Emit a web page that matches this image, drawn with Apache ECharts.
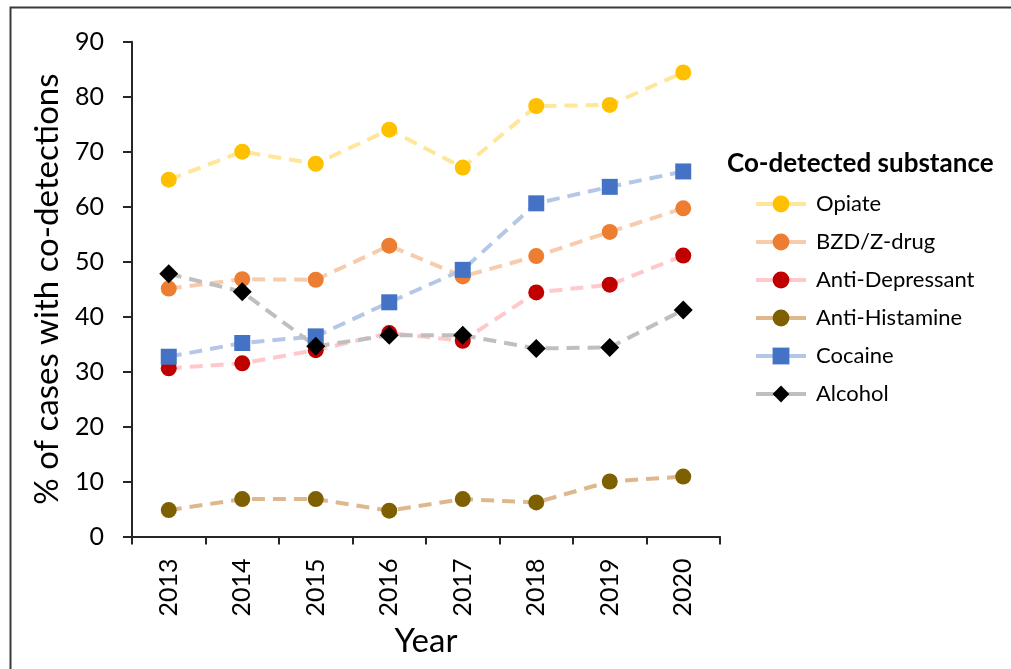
<!DOCTYPE html>
<html><head><meta charset="utf-8">
<script src="https://cdn.jsdelivr.net/npm/echarts@6/dist/echarts.min.js"></script>
<style>html,body{margin:0;padding:0;background:#fff}#c{width:1011px;height:669px}</style>
</head><body><div id="c"></div>
<script>
const years = ['2013','2014','2015','2016','2017','2018','2019','2020'];
const yTicks = [0,10,20,30,40,50,60,70,80,90];
const opiate = [64.9, 70.0, 67.8, 74.0, 67.1, 78.3, 78.5, 84.4];
const bzd = [45.1, 46.8, 46.7, 52.9, 47.3, 51.0, 55.4, 59.7];
const antiDep = [30.6, 31.5, 33.9, 37.0, 35.6, 44.4, 45.8, 51.1];
const antiHist = [4.8, 6.8, 6.8, 4.7, 6.8, 6.2, 10.0, 10.9];
const cocaine = [32.7, 35.2, 36.4, 42.6, 48.5, 60.6, 63.6, 66.4];
const alcohol = [47.8, 44.5, 34.6, 36.6, 36.6, 34.2, 34.4, 41.2];

const FONT = 'Lato';
function mk(name, data, color, lineColor, symbol, size) {
  return {
    name, type: 'line', data, symbol, symbolSize: size,
    itemStyle: { color, borderWidth: 0, opacity: 1 },
    lineStyle: { color: lineColor, width: 4, type: [13, 8] },
    emphasis: { disabled: true }, animation: false
  };
}
const chart = echarts.init(document.getElementById('c'));
chart.setOption({
  animation: false,
  backgroundColor: '#fff',
  textStyle: { fontFamily: FONT },
  graphic: [{ type: 'rect', left: 8, top: 5, shape: { width: 1010, height: 670 },
    style: { fill: 'none', stroke: '#3a3a3a', lineWidth: 2 }, silent: true }],
  title: { text: 'Co-detected substance', left: 722, top: 146,
    textStyle: { fontFamily: FONT, fontSize: 26, fontWeight: 'bold', color: '#000' } },
  grid: { left: 132, top: 41.7, width: 588, height: 494.8, containLabel: false },
  legend: {
    orient: 'vertical', left: 749, top: 188, itemWidth: 50, itemHeight: 21, itemGap: 16,
    textStyle: { fontFamily: FONT, fontSize: 22, lineHeight: 20, color: '#000', padding: [0, 0, 0, 5] },
    lineStyle: { type: 'solid', width: 4 },
    data: ['Opiate', 'BZD/Z-drug', 'Anti-Depressant', 'Anti-Histamine', 'Cocaine', 'Alcohol']
  },
  xAxis: {
    type: 'category', data: years, boundaryGap: true,
    name: 'Year', nameLocation: 'middle', nameGap: 82,
    nameTextStyle: { fontFamily: FONT, fontSize: 33, color: '#000' },
    axisLine: { lineStyle: { color: '#262626', width: 2 } },
    axisTick: { show: true, length: 8, inside: false, lineStyle: { color: '#262626', width: 2 } },
    axisLabel: { rotate: 90, fontFamily: FONT, fontSize: 25, color: '#000', margin: 22 },
    splitLine: { show: false }
  },
  yAxis: {
    type: 'value', min: yTicks[0], max: yTicks[yTicks.length - 1], interval: 10,
    name: '% of cases with co-detections', nameLocation: 'middle', nameGap: 57,
    nameTextStyle: { fontFamily: FONT, fontSize: 33, color: '#000' },
    axisLine: { show: true, lineStyle: { color: '#262626', width: 2 } },
    axisTick: { show: true, length: 9, lineStyle: { color: '#262626', width: 2 } },
    axisLabel: { fontFamily: FONT, fontSize: 25, color: '#000', margin: 28 },
    splitLine: { show: false }
  },
  series: [
    mk('Opiate', opiate, '#FFC000', '#FFE699', 'circle', 16),
    mk('BZD/Z-drug', bzd, '#ED7D31', '#F8CBAD', 'circle', 16),
    mk('Anti-Depressant', antiDep, '#C00000', '#FFC9CC', 'circle', 16),
    mk('Anti-Histamine', antiHist, '#7F6000', '#DDB88F', 'circle', 16),
    mk('Cocaine', cocaine, '#4472C4', '#B4C7E7', 'rect', 16),
    mk('Alcohol', alcohol, '#000000', '#BFBFBF', 'diamond', 19)
  ]
});
</script>
</body></html>
